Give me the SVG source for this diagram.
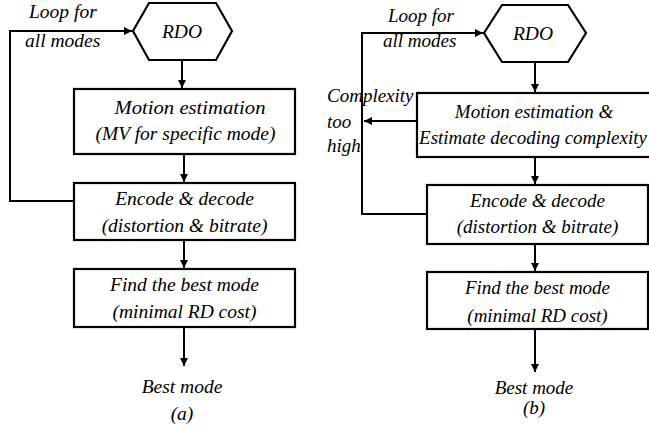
<svg xmlns="http://www.w3.org/2000/svg" width="649" height="429" viewBox="0 0 649 429">
<defs>
<marker id="ah" viewBox="0 0 10 10" refX="10" refY="5" markerWidth="8" markerHeight="8" markerUnits="userSpaceOnUse" orient="auto">
<path d="M0,0 L10,5 L0,10 z" fill="#000"/>
</marker>
</defs>
<style>
.n{fill:#fff;stroke:#000;stroke-width:2.2}
.c{fill:none;stroke:#000;stroke-width:2}
.a{marker-end:url(#ah)}
text{font-family:'Liberation Serif','Times New Roman',serif;font-style:italic;font-size:19.5px;fill:#000}
.r{font-size:19px}
.m{text-anchor:middle}
</style>
<rect width="649" height="429" fill="#fff"/>
<g id="connectors">
<path class="c a" d="M182,59 V88"/>
<path class="c a" d="M184,154 V182"/>
<path class="c a" d="M184,240 V268"/>
<path class="c a" d="M184,327 V366"/>
<path class="c a" d="M74,201 H10 V31 H132"/>
<path class="c a" d="M535,63 V92"/>
<path class="c a" d="M535,157 V184"/>
<path class="c a" d="M535,244 V271"/>
<path class="c a" d="M535,329 V372"/>
<path class="c a" d="M427,214 H362 V33 H483"/>
<path class="c a" d="M417,121 H364"/>
</g>
<g id="rdo_a">
<polygon class="n" points="133,31 149,3 216,3 232,31 216,60 149,60"/>
<text class="m" x="182" y="38">RDO</text>
</g>
<g id="me_a">
<rect class="n" x="74" y="89" width="221" height="65"/>
<text class="m" x="190" y="114" textLength="151" lengthAdjust="spacingAndGlyphs">Motion estimation</text>
<text class="m" x="185.5" y="140">(MV for specific mode)</text>
</g>
<g id="enc_a">
<rect class="n" x="74" y="183" width="221" height="57"/>
<text class="m" x="184.5" y="205">Encode &amp; decode</text>
<text class="m" x="184.5" y="232">(distortion &amp; bitrate)</text>
</g>
<g id="find_a">
<rect class="n" x="74" y="269" width="221" height="58"/>
<text class="m" x="184.5" y="291">Find the best mode</text>
<text class="m" x="184.5" y="318">(minimal RD cost)</text>
</g>
<g id="labels_a">
<text x="29" y="18">Loop for</text>
<text x="25" y="47">all  modes</text>
<text class="m" x="182" y="393">Best mode</text>
<text class="m" x="182" y="420">(a)</text>
</g>
<g id="rdo_b">
<polygon class="n" points="484,33 502,5 568,5 586,33 568,62 502,62"/>
<text class="m" x="533" y="40">RDO</text>
</g>
<g id="me_b">
<rect class="n" x="417" y="93" width="240" height="64"/>
<text class="m r" x="534" y="118">Motion estimation &amp;</text>
<text class="m r" x="533" y="144">Estimate decoding complexity</text>
</g>
<g id="enc_b">
<rect class="n" x="427" y="185" width="221" height="59"/>
<text class="m r" x="537.5" y="207">Encode &amp; decode</text>
<text class="m r" x="537.5" y="233">(distortion &amp; bitrate)</text>
</g>
<g id="find_b">
<rect class="n" x="427" y="272" width="221" height="57"/>
<text class="m r" x="537.5" y="294">Find the best mode</text>
<text class="m r" x="537.5" y="322">(minimal RD cost)</text>
</g>
<g id="labels_b">
<text class="r" x="388" y="22">Loop for</text>
<text class="r" x="383" y="47">all  modes</text>
<text class="r" x="327" y="102">Complexity</text>
<text class="r" x="327" y="128">too</text>
<text class="r" x="327" y="152">high</text>
<text class="m r" x="534" y="394">Best mode</text>
<text class="m r" x="534" y="414">(b)</text>
</g>
</svg>
